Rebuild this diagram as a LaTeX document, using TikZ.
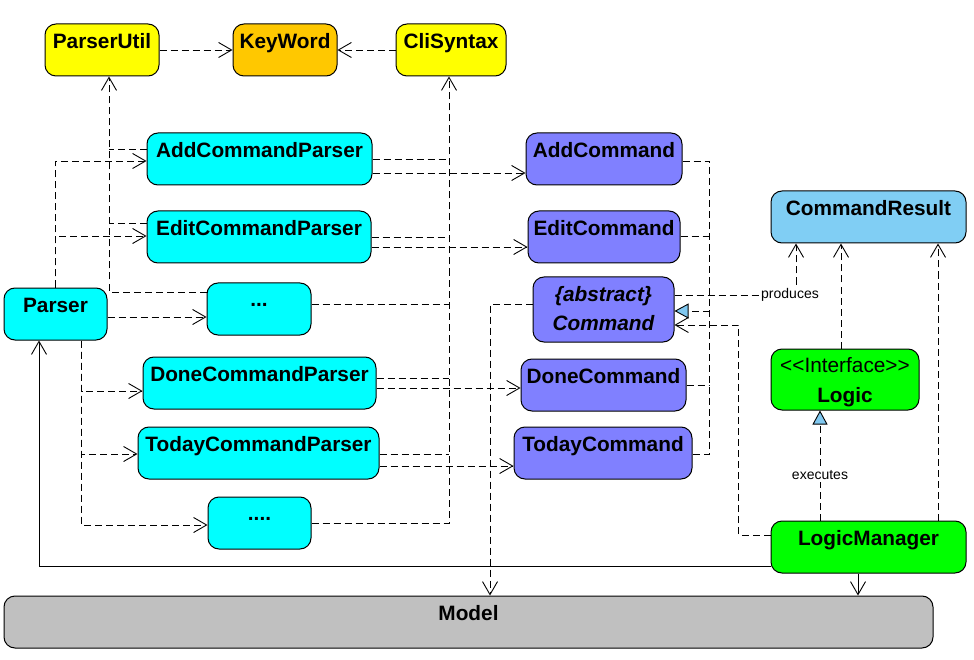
\documentclass[tikz,border=0pt]{standalone}
\usepackage{fontspec}
\setmainfont{Liberation Sans}
\usetikzlibrary{arrows.meta,calc}
\definecolor{cYellow}{HTML}{FFFF00}
\definecolor{cOrange}{HTML}{FFC800}
\definecolor{cCyan}{HTML}{00FFFF}
\definecolor{cPurple}{HTML}{8080FF}
\definecolor{cResult}{HTML}{80CEF4}
\definecolor{cGreen}{HTML}{00FF00}
\definecolor{cGray}{HTML}{C0C0C0}
\definecolor{triBlue}{HTML}{80C8F0}
\begin{document}
\begin{tikzpicture}[x=1pt,y=-1pt,
  box/.style={draw=black, line width=1pt, rounded corners=11pt, inner sep=0pt, minimum height=52pt},
  ttl/.style={anchor=base, inner sep=0pt, font=\fontsize{20.8}{24}\selectfont\bfseries},
  ttlr/.style={anchor=base, inner sep=0pt, font=\fontsize{20.8}{24}\selectfont},
  small/.style={font=\fontsize{14}{16}\selectfont, fill=white, inner sep=2pt},
  dep/.style={draw=black, line width=0.9pt, dash pattern=on 7pt off 4pt},
  assoc/.style={draw=black, line width=0.9pt},
  open/.style={-{Straight Barb[length=13pt,width=15pt,line width=0.9pt]}},
  real/.style={-{Triangle[length=14pt,width=15pt,fill=triBlue,line width=0.9pt]}}
]
\useasboundingbox (0,0) rectangle (974,660);

% top row
\node[box, fill=cYellow, minimum width=114pt] (pu) at (102,50) {};
\node[ttl] (pu-t) at ([yshift=-25pt]pu.north) {ParserUtil};
\node[box, fill=cOrange, minimum width=104pt] (kw) at (285,50) {};
\node[ttl] (kw-t) at ([yshift=-25pt]kw.north) {KeyWord};
\node[box, fill=cYellow, minimum width=110pt] (cs) at (451,50) {};
\node[ttl] (cs-t) at ([yshift=-25pt]cs.north) {CliSyntax};

% parsers
\node[box, fill=cCyan, minimum width=225pt] (acp) at (259.5,159) {};
\node[ttl] (acp-t) at ([yshift=-25pt]acp.north) {AddCommandParser};
\node[box, fill=cCyan, minimum width=224pt] (ecp) at (259,237) {};
\node[ttl] (ecp-t) at ([yshift=-25pt]ecp.north) {EditCommandParser};
\node[box, fill=cCyan, minimum width=104pt] (d1) at (259,309) {};
\node[ttl] (d1-t) at ([yshift=-24pt]d1.north) {...};
\node[box, fill=cCyan, minimum width=103pt] (ps) at (55.5,314) {};
\node[ttl] (ps-t) at ([yshift=-25pt]ps.north) {Parser};
\node[box, fill=cCyan, minimum width=233pt] (dcp) at (259.5,383) {};
\node[ttl] (dcp-t) at ([yshift=-25pt]dcp.north) {DoneCommandParser};
\node[box, fill=cCyan, minimum width=241pt] (tcp) at (258.5,453) {};
\node[ttl] (tcp-t) at ([yshift=-25pt]tcp.north) {TodayCommandParser};
\node[box, fill=cCyan, minimum width=103pt] (d2) at (259.5,523) {};
\node[ttl] (d2-t) at ([yshift=-24pt]d2.north) {....};

% model
\node[box, fill=cGray, minimum width=929pt] (model) at (468.5,622) {};
\node[ttl] (model-t) at ([yshift=-25pt]model.north) {Model};

% commands
\node[box, fill=cPurple, minimum width=156pt] (ac) at (604,159) {};
\node[ttl] (ac-t) at ([yshift=-25pt]ac.north) {AddCommand};
\node[box, fill=cPurple, minimum width=152pt] (ec) at (604,237) {};
\node[ttl] (ec-t) at ([yshift=-25pt]ec.north) {EditCommand};
\node[box, fill=cPurple, minimum width=141pt, minimum height=65pt] (cmd) at (603.5,309.5) {};
\node[ttl] (cmd-t1) at ([yshift=-25pt]cmd.north) {\itshape\{abstract\}};
\node[ttl] (cmd-t2) at ([yshift=-54pt]cmd.north) {\itshape Command};
\node[box, fill=cPurple, minimum width=165pt] (dc) at (603.5,385) {};
\node[ttl] (dc-t) at ([yshift=-25pt]dc.north) {DoneCommand};
\node[box, fill=cPurple, minimum width=178pt] (tc) at (603,453) {};
\node[ttl] (tc-t) at ([yshift=-25pt]tc.north) {TodayCommand};

% right side
\node[box, fill=cResult, minimum width=195pt] (cr) at (868.5,217) {};
\node[ttl] (cr-t) at ([yshift=-25pt]cr.north) {CommandResult};
\node[box, fill=cGreen, minimum width=148pt, minimum height=61pt] (lg) at (845,379.5) {};
\node[ttlr] (lg-t1) at ([yshift=-24pt]lg.north) {<\kern0pt<Interface>\kern0pt>};
\node[ttl] (lg-t2) at ([yshift=-54pt]lg.north) {Logic};
\node[box, fill=cGreen, minimum width=195pt] (lm) at (868.5,547) {};
\node[ttl] (lm-t) at ([yshift=-25pt]lm.north) {LogicManager};

% ---- connectors ----
\draw[dep,open] (pu.east) -- (kw.west);
\draw[dep,open] (cs.west) -- (kw.east);

% parsers -> ParserUtil
\coordinate (puIn) at ([xshift=7pt]pu.south);
\coordinate (acpA) at ([yshift=10pt]acp.west);
\coordinate (ecpA) at ([yshift=14pt]ecp.west);
\coordinate (d1A) at ([yshift=17pt]d1.west);
\draw[dep,open] (d1A) -| (puIn);
\draw[dep] (acpA) -- (acpA -| puIn);
\draw[dep] (ecpA) -- (ecpA -| puIn);

% Parser -> parsers
\draw[dep,open] (ps.north) |- ([yshift=-2pt]acp.west);
\draw[dep,open] (ps.north) |- ([yshift=1pt]ecp.west);
\coordinate (psE) at ([yshift=-3pt]ps.east);
\draw[dep,open] (psE) -- (psE -| d1.west);
\coordinate (psS) at ([xshift=26pt]ps.south);
\draw[dep,open] (psS) |- ([yshift=-8pt]dcp.west);
\draw[dep,open] (psS) |- ([yshift=-1pt]tcp.west);
\draw[dep,open] (psS) |- ([yshift=-2pt]d2.west);

% parsers -> CliSyntax
\coordinate (csIn) at ([xshift=-2pt]cs.south);
\draw[dep,open] (d2.east) -| (csIn);
\coordinate (acpB) at (acp.east);
\coordinate (ecpB) at (ecp.east);
\coordinate (d1B) at ([yshift=5pt]d1.east);
\coordinate (dcpB) at ([yshift=5pt]dcp.east);
\coordinate (tcpB) at ([yshift=-1pt]tcp.east);
\draw[dep] (acpB) -- (acpB -| csIn);
\draw[dep] (ecpB) -- (ecpB -| csIn);
\draw[dep] (d1B) -- (d1B -| csIn);
\draw[dep] (dcpB) -- (dcpB -| csIn);
\draw[dep] (tcpB) -- (tcpB -| csIn);

% parsers -> commands
\coordinate (acpC) at ([yshift=-14pt]acp.east);
\coordinate (ecpC) at ([yshift=-10pt]ecp.east);
\coordinate (dcpC) at ([yshift=-5pt]dcp.east);
\coordinate (tcpC) at ([yshift=-13pt]tcp.east);
\draw[dep,open] (acpC) -- (acpC -| ac.west);
\draw[dep,open] (ecpC) -- (ecpC -| ec.west);
\draw[dep,open] (dcpC) -- (dcpC -| dc.west);
\draw[dep,open] (tcpC) -- (tcpC -| tc.west);

% commands -> abstract Command
\coordinate (jn) at ($(cmd.east)+(35,1.5)$);
\coordinate (acE) at ([yshift=-2pt]ac.east);
\coordinate (ecE) at ([yshift=1pt]ec.east);
\coordinate (dcE) at (dc.east);
\coordinate (tcE) at ([yshift=-1pt]tc.east);
\draw[dep] (acE) -- (acE -| jn) -- (tcE -| jn) -- (tcE);
\draw[dep] (ecE) -- (ecE -| jn);
\draw[dep] (dcE) -- (dcE -| jn);
\draw[dep,real] (jn) -- (jn -| cmd.east);

% Command -> Model
\coordinate (cmdW) at ([yshift=5.5pt]cmd.west);
\coordinate (mdIn) at ([xshift=21.5pt]model.north);
\draw[dep,open] (cmdW) -| (mdIn);

% Command -> CommandResult (produces)
\coordinate (cmdP) at ([yshift=14.5pt]cmd.east);
\coordinate (crP) at ([xshift=-72.5pt]cr.south);
\draw[dep,open] (cmdP) -| node[small, pos=0.5, xshift=-6pt] (prod) {produces} (crP);

% LogicManager -> Command
\coordinate (lmW) at ([yshift=12pt]lm.west);
\coordinate (bend) at ($(cmd.east)+(64,15.5)$);
\coordinate (cmdR) at ([yshift=-15.5pt]cmd.east);
\draw[dep,open] (lmW) -| (bend) -- (cmdR);

% Logic -> CommandResult, LogicManager -> CommandResult
\coordinate (lgN) at ([xshift=-4pt]lg.north);
\draw[dep,open] (lgN) -- (lgN |- cr.south);
\coordinate (lmN2) at ([xshift=69.5pt]lm.north);
\draw[dep,open] (lmN2) -- (lmN2 |- cr.south);

% LogicManager -> Logic (executes)
\coordinate (lmN1) at ([xshift=-48.5pt]lm.north);
\draw[dep,real] (lmN1) -- node[small, pos=0.41] (exe) {executes} (lmN1 |- lg.south);

% LogicManager -> Model, LogicManager -> Parser
\coordinate (lmS) at ([xshift=-10.5pt]lm.south);
\draw[assoc,open] (lmS) -- (lmS |- model.north);
\coordinate (lmW2) at ([yshift=-19pt]lm.west);
\coordinate (psIn) at ([xshift=-16.5pt]ps.south);
\draw[assoc,open] (lmW2) -| (psIn);
\end{tikzpicture}
\end{document}
